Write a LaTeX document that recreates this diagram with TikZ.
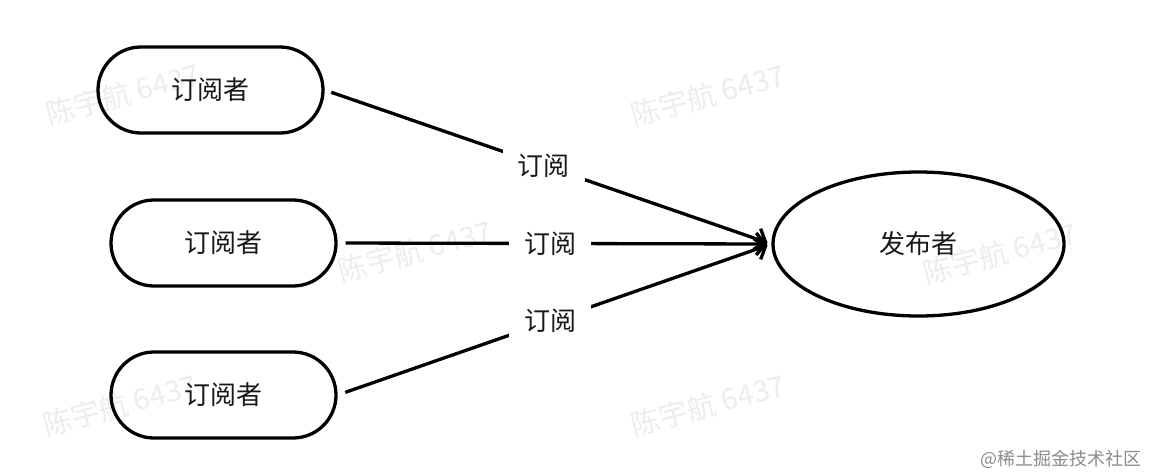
\documentclass[tikz,border=0pt]{standalone}
\usepackage{fontspec}
\setmainfont{Noto Sans CJK SC}
\usetikzlibrary{shapes.geometric,arrows.meta}
\begin{document}
\begin{tikzpicture}[x=1pt,y=-1pt,
  sub/.style={draw, line width=3.3pt, rectangle, rounded corners=43pt, minimum width=225pt, minimum height=86pt, font=\fontsize{26}{30}\selectfont, text=black!90},
  pub/.style={draw, line width=3.3pt, ellipse, minimum width=291pt, minimum height=144pt, inner sep=0pt, font=\fontsize{26}{30}\selectfont, text=black!90},
  conn/.style={line width=3.3pt, -{Straight Barb[length=9pt,width=22pt]}},
  lbl/.style={fill=white, inner xsep=15pt, inner ysep=4pt, font=\fontsize{26}{30}\selectfont, text=black!90},
  wm/.style={text=black!7, rotate=15, font=\fontsize{29}{34}\selectfont},
  sitemark/.style={text=black!45, font=\fontsize{18}{22}\selectfont}
]
\useasboundingbox (0,0) rectangle (1150,474);
\fill[white] (0,0) rectangle (1150,474);
% watermarks
\node[wm] (w1) at (123,94) {陈宇航 6437};
\node[wm] (w2) at (708,95) {陈宇航 6437};
\node[wm] (w3) at (415,251) {陈宇航 6437};
\node[wm] (w4) at (1000,253) {陈宇航 6437};
\node[wm] (w5) at (120,405) {陈宇航 6437};
\node[wm] (w6) at (708,405) {陈宇航 6437};
% nodes
\node[sub] (s1) at (210.5,90) {订阅者};
\node[sub] (s2) at (223.5,243) {订阅者};
\node[sub] (s3) at (223.5,395) {订阅者};
\node[pub] (p) at (918.5,244) {发布者};
% connectors
\draw[conn, shorten <=7pt, shorten >=4pt] (s1.east) -- (p.west) node[lbl, pos=0.49] (l1) {订阅};
\draw[conn, shorten <=8pt, shorten >=4pt] (s2.east) -- (p.west) node[lbl, pos=0.49] (l2) {订阅};
\draw[conn, shorten <=8pt, shorten >=4pt] (s3.east) -- (p.west) node[lbl, pos=0.49] (l3) {订阅};
% site mark
\node[sitemark, anchor=east] (m) at (1145,459) {@稀土掘金技术社区};
\end{tikzpicture}
\end{document}
